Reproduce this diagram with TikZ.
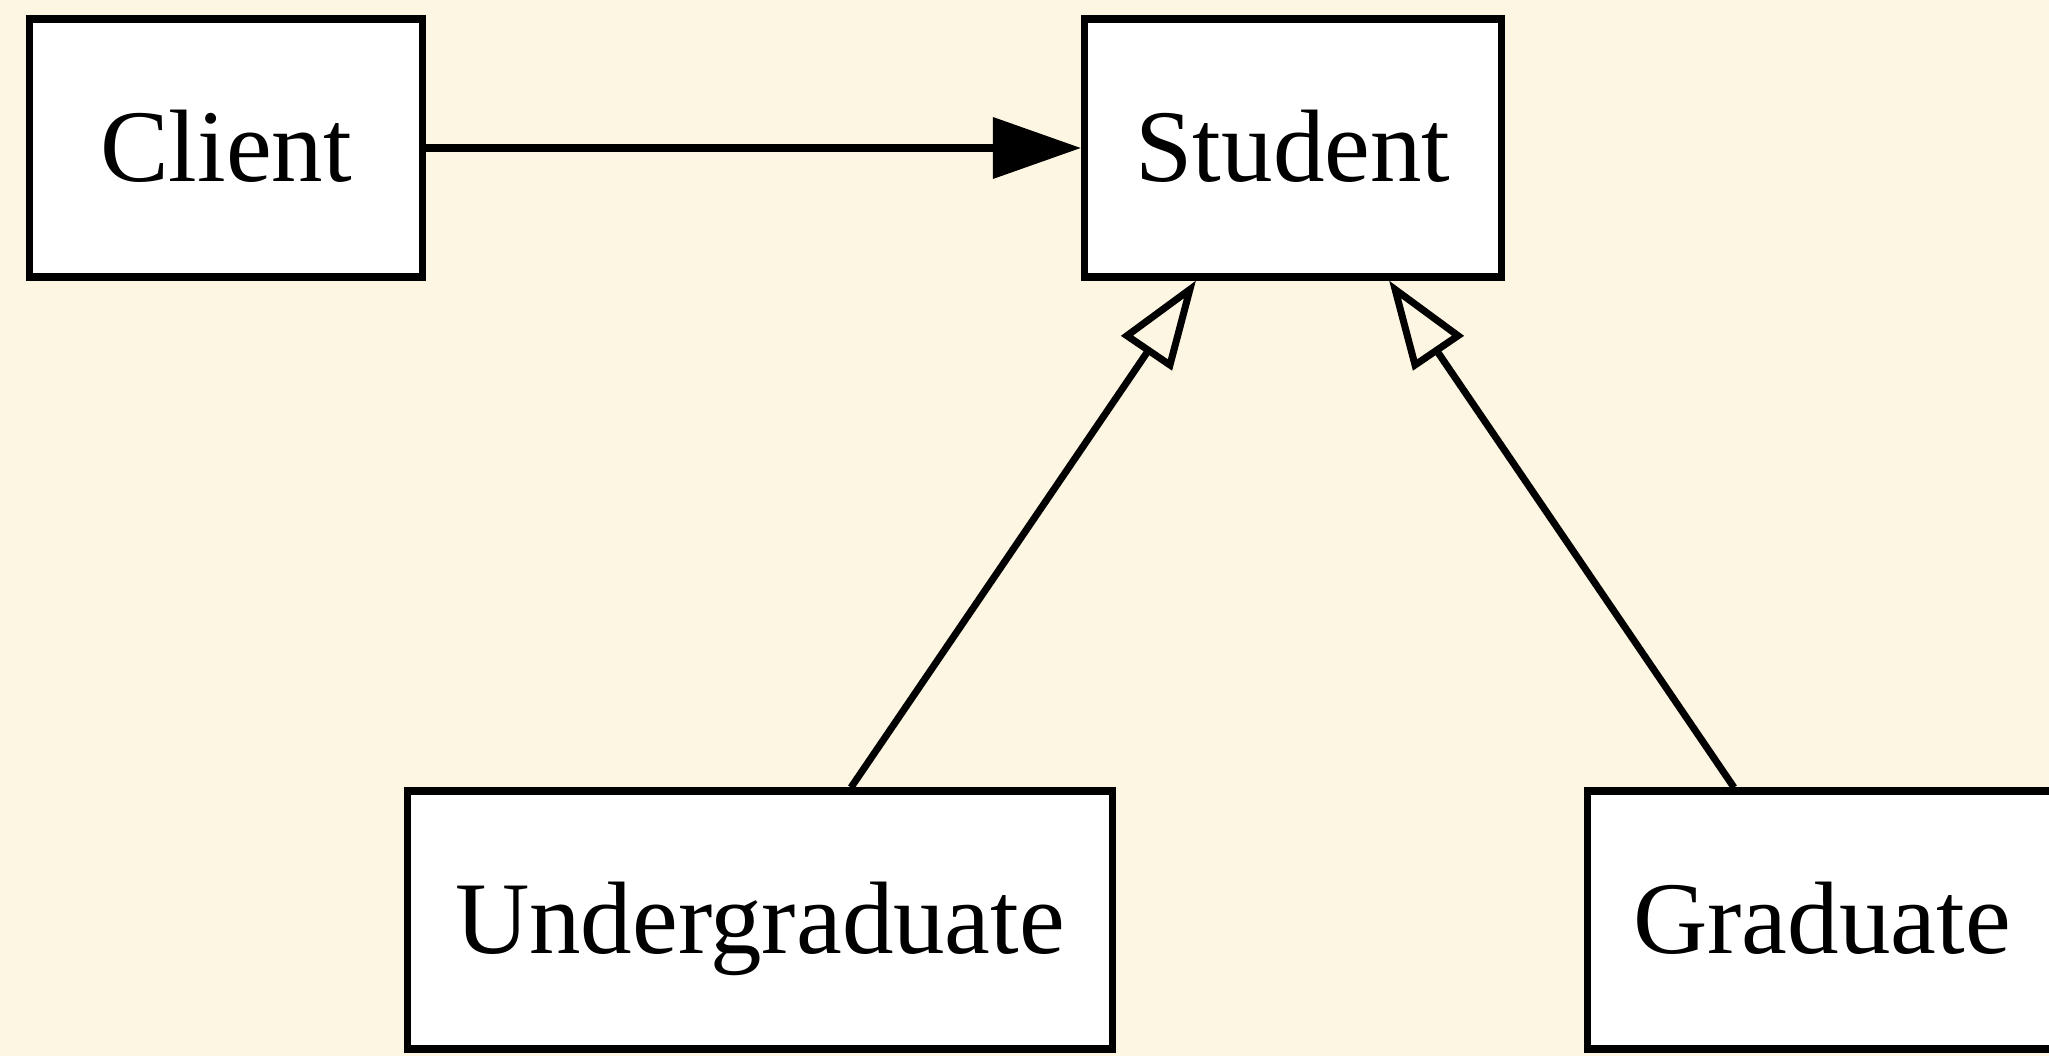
\documentclass[tikz,border=0pt]{standalone}
\usepackage{fontspec}
\setmainfont{Liberation Serif}
\usetikzlibrary{arrows.meta}
\definecolor{paper}{HTML}{FDF6E3}

\begin{document}
\begin{tikzpicture}[>={Triangle[length=0.88cm,width=0.6cm]}, line width=2pt,
    every node/.style={font=\fontsize{29.3}{34}\selectfont},
    cls/.style={draw, fill=white, minimum height=2.58cm, inner sep=0pt, text height=19.3pt, text depth=0pt},
    isa/.style={-{Triangle[open,length=0.88cm,width=0.6cm]}}]
        \fill[paper] (0,0) rectangle (20.49,10.56);
        \useasboundingbox (0,0) rectangle (20.49,10.56);
        \node[cls, minimum width=3.93cm] (client) at (2.26,9.08) {Client};
        \node[cls, minimum width=4.17cm] (student) at (12.93,9.08) {Student};
        \node[cls, minimum width=7.05cm] (under) at (7.60,1.36) {Undergraduate};
        \node[cls, minimum width=4.70cm] (grad) at (18.22,1.36) {Graduate};
        \draw[->] (client) -- (student);
        \draw[isa] ([xshift=0.91cm]under.north) -- ([xshift=-0.97cm]student.south);
        \draw[isa] ([xshift=-0.88cm]grad.north) -- ([xshift=0.96cm]student.south);
\end{tikzpicture}
\end{document}
